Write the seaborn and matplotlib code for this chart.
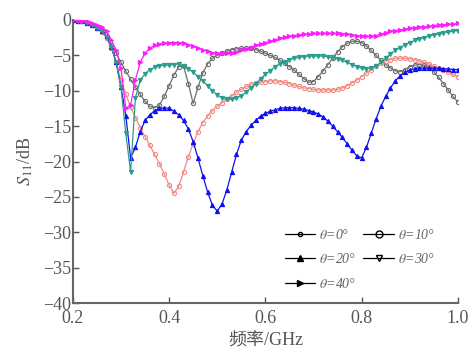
import numpy as np
import matplotlib
matplotlib.use("Agg")
import matplotlib.pyplot as plt
import seaborn as sns
from matplotlib.lines import Line2D

# frequency grid (GHz), 0.2 .. 1.0 step 0.01
freq = np.round(np.arange(0.20, 1.0001, 0.01), 2)

# S11 (dB) for each angle
s11_0 = [0, -0.1, -0.2, -0.4, -0.7, -1.1, -1.6, -2.5, -3.5, -4.7,
         -6.0, -7.2, -8.4, -9.5, -10.5, -11.5, -12.2, -12.4, -12.0, -10.8,
         -9.3, -7.8, -6.6, -6.5, -9.0, -11.8, -9.5, -7.5, -6.2, -5.4,
         -5.0, -4.7, -4.4, -4.2, -4.1, -4.0, -4.0, -4.0, -4.2, -4.4,
         -4.7, -5.0, -5.3, -5.7, -6.1, -6.6, -7.1, -7.7, -8.3, -8.8,
         -8.7, -8.0, -7.2, -6.3, -5.4, -4.5, -3.8, -3.3, -3.0, -3.0,
         -3.2, -3.7, -4.3, -5.0, -5.7, -6.3, -6.8, -7.2, -7.3, -7.0,
         -6.6, -6.4, -6.3, -6.4, -6.7, -7.3, -8.1, -9.0, -9.9, -10.8,
         -11.6]
s11_10 = [0, -0.1, -0.2, -0.4, -0.7, -1.1, -1.7, -2.6, -4.0, -6.0,
          -8.5, -10.5, -12.3, -13.8, -15.2, -16.5, -17.7, -19.0, -20.3, -21.8,
          -23.3, -24.5, -23.5, -21.5, -19.3, -17.5, -15.8, -14.5, -13.6, -12.8,
          -12.2, -11.7, -11.2, -10.7, -10.2, -9.8, -9.4, -9.1, -8.9, -8.8,
          -8.7, -8.6, -8.6, -8.7, -8.8, -9.0, -9.2, -9.4, -9.6, -9.7,
          -9.8, -9.9, -9.9, -9.9, -9.9, -9.8, -9.6, -9.3, -8.9, -8.5,
          -8.0, -7.5, -7.0, -6.5, -6.1, -5.8, -5.6, -5.4, -5.4, -5.4,
          -5.5, -5.6, -5.8, -6.0, -6.2, -6.5, -6.8, -7.1, -7.4, -7.7,
          -8.0]
s11_20 = [0, -0.1, -0.2, -0.4, -0.7, -1.1, -1.6, -2.3, -3.8, -6.0,
          -9.5, -13.5, -19.5, -18.0, -15.8, -14.2, -13.4, -12.8, -12.5, -12.4,
          -12.5, -12.9, -13.4, -14.2, -15.4, -17.2, -19.5, -22.0, -24.3, -26.2,
          -27.0, -26.0, -24.0, -21.5, -19.0, -17.0, -15.8, -14.9, -14.2, -13.6,
          -13.2, -12.9, -12.7, -12.5, -12.4, -12.4, -12.4, -12.5, -12.6, -12.8,
          -13.0, -13.3, -13.7, -14.3, -15.0, -15.8, -16.6, -17.5, -18.4, -19.2,
          -19.5, -18.0, -16.0, -14.0, -12.2, -10.8, -9.6, -8.6, -7.9, -7.4,
          -7.1, -6.9, -6.8, -6.8, -6.8, -6.8, -6.8, -6.9, -6.9, -7.0,
          -7.0]
s11_30 = [0, -0.1, -0.2, -0.4, -0.7, -1.1, -1.6, -2.4, -3.8, -6.0,
          -9.5, -16.0, -21.5, -11.0, -8.5, -7.6, -7.0, -6.7, -6.5, -6.4,
          -6.4, -6.3, -6.2, -6.5, -6.9, -7.4, -8.0, -8.6, -9.3, -10.0,
          -10.6, -11.0, -11.2, -11.2, -11.0, -10.7, -10.2, -9.6, -9.0, -8.3,
          -7.7, -7.2, -6.6, -6.2, -5.9, -5.6, -5.4, -5.3, -5.2, -5.1,
          -5.1, -5.1, -5.1, -5.2, -5.3, -5.5, -5.7, -6.0, -6.3, -6.6,
          -6.8, -6.9, -6.8, -6.5, -6.0, -5.4, -4.8, -4.3, -3.9, -3.5,
          -3.2, -2.9, -2.7, -2.5, -2.3, -2.1, -2.0, -1.8, -1.7, -1.6,
          -1.5]
s11_40 = [0, 0, -0.1, -0.2, -0.4, -0.7, -1.0, -1.6, -2.8, -4.3,
          -6.8, -12.5, -12.0, -8.5, -6.0, -4.7, -4.0, -3.6, -3.4, -3.3,
          -3.2, -3.2, -3.2, -3.3, -3.5, -3.7, -4.0, -4.2, -4.4, -4.6,
          -4.7, -4.7, -4.7, -4.6, -4.5, -4.3, -4.1, -3.9, -3.6, -3.4,
          -3.2, -3.0, -2.8, -2.6, -2.4, -2.3, -2.2, -2.1, -2.0, -2.0,
          -1.9, -1.9, -1.9, -1.9, -1.9, -1.9, -2.0, -2.0, -2.1, -2.2,
          -2.3, -2.3, -2.3, -2.2, -2.0, -1.8, -1.6, -1.5, -1.4, -1.3,
          -1.2, -1.1, -1.0, -1.0, -0.9, -0.8, -0.7, -0.7, -0.6, -0.6,
          -0.5]

labels = ['0°', '10°', '20°', '30°', '40°']
series = [s11_0, s11_10, s11_20, s11_30, s11_40]
colors = ['#6e6e6e', '#f28b82', '#1010f0', '#2a9d8f', '#ff1aff']
markers = ['o', 'o', '^', 'v', '>']
fills = ['none', 'none', None, None, None]

sns.set_style('ticks')
plt.rcParams['font.family'] = ['Liberation Serif', 'Noto Sans CJK SC']
plt.rcParams['mathtext.fontset'] = 'stix'
plt.rcParams['axes.unicode_minus'] = True

fig = plt.figure(figsize=(4.73, 3.5), dpi=100)
ax = fig.add_axes([0.154, 0.134, 0.814, 0.809])

for vals, c, m, fc in zip(series, colors, markers, fills):
    kw = dict(markerfacecolor=fc) if fc else {}
    sns.lineplot(x=freq, y=vals, color=c, marker=m, markersize=3,
                 markeredgewidth=0.8, markeredgecolor=c, linewidth=0.9,
                 ax=ax, **kw)

ax.set_xlim(0.2, 1.0)
ax.set_ylim(-40, 0)
ax.set_xticks([0.2, 0.4, 0.6, 0.8, 1.0])
ax.set_xticklabels(['0.2', '0.4', '0.6', '0.8', '1.0'])
ax.set_yticks(np.arange(-40, 1, 5))
ax.tick_params(direction='in', length=4, width=1, colors='#555555',
               labelsize=13)
ax.tick_params(axis='y', pad=1)
ax.tick_params(axis='x', pad=5)
for s in ['top', 'right']:
    ax.spines[s].set_visible(False)
for s in ['left', 'bottom']:
    ax.spines[s].set_color('#666666')
    ax.spines[s].set_linewidth(1.5)

ax.set_xlabel('频率/GHz', fontsize=13, color='#555555', labelpad=4)
ax.set_ylabel(r'$S_{11}$/dB', fontsize=13, color='#555555', labelpad=6)

# legend drawn in black like the original, filled row by row
handles = [
    Line2D([], [], color='k', marker='o', markersize=3, markerfacecolor='none', lw=0.9),
    Line2D([], [], color='k', marker='o', markersize=5, markerfacecolor='none', lw=0.9),
    Line2D([], [], color='k', marker='^', markersize=4, lw=0.9),
    Line2D([], [], color='k', marker='v', markersize=4, markerfacecolor='none', lw=0.9),
    Line2D([], [], color='k', marker='>', markersize=4, lw=0.9),
]
leg_text = [r'$\theta$=' + l for l in labels]
order = [0, 2, 4, 1, 3]
ax.legend([handles[i] for i in order], [leg_text[i] for i in order],
          ncol=2, frameon=False, loc='upper left', borderpad=0,
          bbox_to_anchor=(0.532, 0.29), prop={'size': 10, 'style': 'italic'},
          handlelength=2.2, columnspacing=0.5, handletextpad=0.3,
          labelspacing=0.75, labelcolor='#666666')

fig.savefig('out.png', dpi=100)
